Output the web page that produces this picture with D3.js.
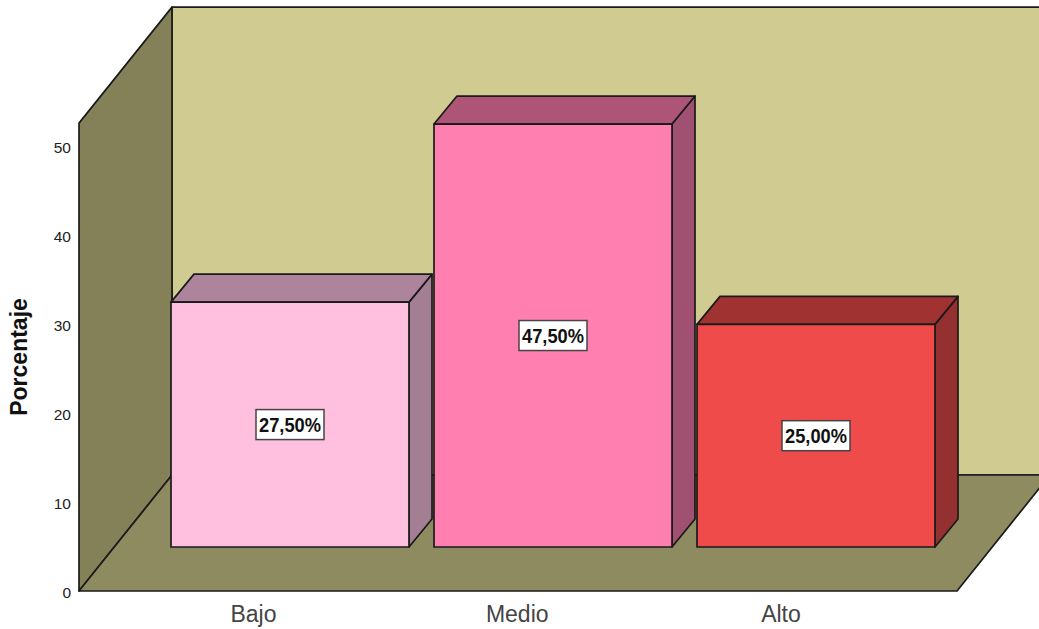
<!DOCTYPE html>
<html><head><meta charset="utf-8">
<script src="https://cdn.jsdelivr.net/npm/d3@7"></script>
<style>html,body{margin:0;padding:0;background:#fff}svg{display:block}</style></head>
<body><svg id="c" width="1039" height="629"></svg>
<script>
const categories = ["Bajo","Medio","Alto"];
const percentages = [27.5,47.5,25.0];
const frontColors = ["#FFC0E0","#FF80B0","#EF4B4B"];
const topColors = ["#AE849D","#AE5577","#A03232"];
const sideColors = ["#A47F94","#A05070","#953030"];
const yTicks = [0,10,20,30,40,50];
const yAxisTitle = "Porcentaje";
const wallMax = 52.55;

const svg = d3.select("#c");
const stroke = "#1a1a1a", sw = 1.7;
const y = d3.scaleLinear().domain([0,50]).range([591,145.8]);
const x = d3.scaleBand().domain(categories).range([158.5,947.5]).paddingInner(25/263).paddingOuter(12.5/263);
const xLabel = d3.scalePoint().domain(categories).range([253.5,781]);
const depth = {dx:93, dy:-116};
const barDepth = {dx:23, dy:-28};
const barLift = 44;           // bars stand this far back on the floor
const xFront = 79, xEnd = 957;
const path = pts => "M" + pts.map(p => p.join(",")).join("L") + "Z";
const poly = (pts, fill) => svg.append("path").attr("d", path(pts)).attr("fill", fill)
  .attr("stroke", stroke).attr("stroke-width", sw).attr("stroke-linejoin","round");

// walls and floor
const y0 = y(0), yT = y(wallMax);
poly([[xFront+depth.dx,y0+depth.dy],[xEnd+depth.dx,y0+depth.dy],[xEnd+depth.dx,yT+depth.dy],[xFront+depth.dx,yT+depth.dy]], "#D0CB90");
poly([[xFront,y0],[xFront+depth.dx,y0+depth.dy],[xFront+depth.dx,yT+depth.dy],[xFront,yT]], "#848158");
poly([[xFront,y0],[xEnd,y0],[xEnd+depth.dx,y0+depth.dy],[xFront+depth.dx,y0+depth.dy]], "#8F8B60");

// bars
categories.forEach((c,i) => {
  const l = x(c), r = l + x.bandwidth(), b = y0 - barLift, t = b - (y0 - y(percentages[i]));
  const d = barDepth;
  poly([[r,b],[r+d.dx,b+d.dy],[r+d.dx,t+d.dy],[r,t]], sideColors[i]);
  poly([[l,t],[r,t],[r+d.dx,t+d.dy],[l+d.dx,t+d.dy]], topColors[i]);
  poly([[l,t],[r,t],[r,b],[l,b]], frontColors[i]);
  const cx = (l+r)/2, cy = (t+b)/2;
  svg.append("rect").attr("x",cx-34).attr("y",cy-15).attr("width",68).attr("height",30)
    .attr("fill","#fff").attr("stroke","#444").attr("stroke-width",1.5);
  svg.append("text").attr("x",cx).attr("y",cy+7.5).attr("text-anchor","middle")
    .attr("textLength",62).attr("lengthAdjust","spacingAndGlyphs")
    .attr("font-family","Liberation Sans").attr("font-weight","bold").attr("font-size",21).attr("fill","#111")
    .text(percentages[i].toFixed(2).replace(".",",")+"%");
  // category label
  svg.append("text").attr("x",xLabel(c)).attr("y",622).attr("text-anchor","middle")
    .attr("font-family","Liberation Sans").attr("font-size",23).attr("fill","#444").text(c);
});

// y axis labels
const ax = svg.append("g").attr("transform",`translate(${xFront},1.5)`).call(d3.axisLeft(y).tickValues(yTicks).tickSize(0).tickPadding(8));
ax.select(".domain").remove();
ax.selectAll("text").attr("font-family","Liberation Sans").attr("font-size",15.5).attr("fill","#222");

svg.append("text").attr("transform","translate(27,357) rotate(-90)").attr("text-anchor","middle")
  .attr("font-family","Liberation Sans").attr("font-weight","bold").attr("font-size",23).attr("fill","#111").text(yAxisTitle);
</script></body></html>
